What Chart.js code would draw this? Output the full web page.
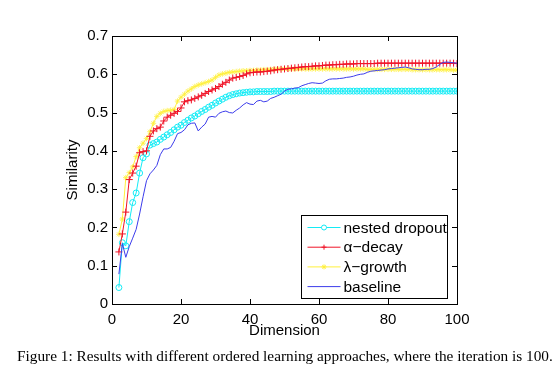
<!DOCTYPE html>
<html>
<head>
<meta charset="utf-8">
<script src="https://cdn.jsdelivr.net/npm/chart.js@4/dist/chart.umd.min.js"></script>
<style>
  html, body { margin: 0; padding: 0; background: #fff; }
  #wrap { position: relative; width: 554px; height: 384px; overflow: hidden; }
  #caption {
    position: absolute; left: 17px; top: 347px; white-space: nowrap;
    font-family: "Liberation Serif", "Times New Roman", serif; font-size: 15.3px; color: #000;
  }
</style>
</head>
<body>
<div id="wrap">
  <canvas id="chart" width="554" height="384"></canvas>
  <div id="caption">Figure 1: Results with different ordered learning approaches, where the iteration is 100.</div>
</div>
<script>
// 차원 (x축)
const dims = [
  2, 3, 4, 5, 6, 7, 8, 9, 10, 11, 12, 13, 14, 15, 16, 17, 18, 19, 20,
  21, 22, 23, 24, 25, 26, 27, 28, 29, 30, 31, 32, 33, 34, 35, 36, 37, 38, 39, 40,
  41, 42, 43, 44, 45, 46, 47, 48, 49, 50, 51, 52, 53, 54, 55, 56, 57, 58, 59, 60,
  61, 62, 63, 64, 65, 66, 67, 68, 69, 70, 71, 72, 73, 74, 75, 76, 77, 78, 79, 80,
  81, 82, 83, 84, 85, 86, 87, 88, 89, 90, 91, 92, 93, 94, 95, 96, 97, 98, 99, 100
];

const nestedDropout = [
  0.043, 0.160, 0.152, 0.215, 0.265, 0.290, 0.342, 0.382, 0.392, 0.415, 0.419, 0.423, 0.430, 0.436, 0.442, 0.448, 0.455, 0.462, 0.467,
  0.474, 0.480, 0.486, 0.491, 0.497, 0.503, 0.508, 0.514, 0.519, 0.525, 0.530, 0.535, 0.540, 0.544, 0.547, 0.549, 0.551, 0.552, 0.553, 0.554,
  0.554, 0.555, 0.555, 0.555, 0.555, 0.555, 0.556, 0.556, 0.556, 0.556, 0.556, 0.556, 0.556, 0.556, 0.556, 0.556, 0.556, 0.556, 0.556, 0.556,
  0.556, 0.556, 0.556, 0.556, 0.556, 0.556, 0.556, 0.556, 0.556, 0.556, 0.556, 0.556, 0.556, 0.556, 0.556, 0.556, 0.556, 0.556, 0.556, 0.556,
  0.556, 0.556, 0.556, 0.556, 0.556, 0.556, 0.556, 0.556, 0.556, 0.556, 0.556, 0.556, 0.556, 0.556, 0.556, 0.556, 0.556, 0.556, 0.556, 0.556
];

const alphaDecay = [
  0.136, 0.183, 0.240, 0.325, 0.342, 0.360, 0.395, 0.398, 0.400, 0.438, 0.452, 0.458, 0.462, 0.478, 0.488, 0.493, 0.498, 0.503, 0.512,
  0.528, 0.531, 0.533, 0.537, 0.541, 0.545, 0.550, 0.555, 0.559, 0.563, 0.568, 0.574, 0.579, 0.585, 0.590, 0.592, 0.594, 0.597, 0.601, 0.604,
  0.605, 0.606, 0.606, 0.607, 0.608, 0.609, 0.611, 0.612, 0.613, 0.614, 0.615, 0.616, 0.617, 0.618, 0.619, 0.620, 0.620, 0.621, 0.622, 0.622,
  0.623, 0.624, 0.624, 0.625, 0.625, 0.626, 0.626, 0.627, 0.627, 0.627, 0.628, 0.628, 0.628, 0.628, 0.628, 0.628, 0.629, 0.629, 0.629, 0.629,
  0.629, 0.629, 0.629, 0.629, 0.629, 0.629, 0.629, 0.629, 0.629, 0.629, 0.629, 0.629, 0.629, 0.629, 0.629, 0.629, 0.629, 0.629, 0.629, 0.628
];

const lambdaGrowth = [
  0.182, 0.222, 0.330, 0.343, 0.358, 0.385, 0.408, 0.420, 0.432, 0.450, 0.472, 0.490, 0.498, 0.503, 0.505, 0.506, 0.508, 0.530, 0.540,
  0.548, 0.556, 0.562, 0.568, 0.572, 0.575, 0.578, 0.581, 0.585, 0.592, 0.598, 0.601, 0.603, 0.605, 0.606, 0.607, 0.608, 0.609, 0.609, 0.610,
  0.610, 0.611, 0.611, 0.612, 0.612, 0.613, 0.613, 0.614, 0.614, 0.614, 0.614, 0.614, 0.614, 0.614, 0.614, 0.614, 0.614, 0.614, 0.614, 0.614,
  0.614, 0.614, 0.614, 0.614, 0.614, 0.614, 0.614, 0.614, 0.614, 0.614, 0.614, 0.614, 0.614, 0.613, 0.613, 0.613, 0.613, 0.613, 0.613, 0.613,
  0.613, 0.613, 0.613, 0.613, 0.613, 0.613, 0.612, 0.612, 0.612, 0.612, 0.612, 0.612, 0.612, 0.612, 0.612, 0.612, 0.612, 0.612, 0.611, 0.611
];

const baseline = [
  0.078, 0.158, 0.122, 0.150, 0.172, 0.195, 0.235, 0.280, 0.322, 0.340, 0.350, 0.362, 0.390, 0.405, 0.405, 0.409, 0.425, 0.445, 0.448,
  0.455, 0.468, 0.472, 0.473, 0.452, 0.462, 0.470, 0.488, 0.490, 0.488, 0.498, 0.502, 0.504, 0.500, 0.499, 0.506, 0.512, 0.520, 0.526, 0.522,
  0.521, 0.530, 0.532, 0.528, 0.530, 0.537, 0.540, 0.544, 0.548, 0.556, 0.561, 0.562, 0.564, 0.565, 0.570, 0.573, 0.576, 0.578, 0.577, 0.576,
  0.577, 0.583, 0.587, 0.588, 0.588, 0.589, 0.590, 0.592, 0.593, 0.595, 0.598, 0.600, 0.601, 0.605, 0.608, 0.609, 0.610, 0.611, 0.612, 0.614,
  0.615, 0.616, 0.617, 0.618, 0.619, 0.617, 0.614, 0.613, 0.612, 0.612, 0.613, 0.613, 0.615, 0.619, 0.626, 0.631, 0.632, 0.631, 0.630, 0.629
];

const seriesNames = ['nested dropout', 'α−decay', 'λ−growth', 'baseline'];
const xTicks = [0, 20, 40, 60, 80, 100];
const yTicks = [0, 0.1, 0.2, 0.3, 0.4, 0.5, 0.6, 0.7];

const FONT = '"Liberation Sans", Arial, Helvetica, sans-serif';

function toPoints(values) {
  return values.map((v, i) => ({ x: dims[i], y: v }));
}

// 안쪽 눈금 + 테두리 (MATLAB 스타일)
const boxTicks = {
  id: 'boxTicks',
  afterDatasetsDraw(chart) {
    const { ctx, chartArea: a, scales: { x, y } } = chart;
    const len = 5;
    ctx.save();
    ctx.strokeStyle = '#000';
    ctx.lineWidth = 1;
    ctx.beginPath();
    xTicks.forEach(v => {
      const px = Math.round(x.getPixelForValue(v)) + 0.5;
      ctx.moveTo(px, a.bottom); ctx.lineTo(px, a.bottom - len);
      ctx.moveTo(px, a.top); ctx.lineTo(px, a.top + len);
    });
    yTicks.forEach(v => {
      const py = Math.round(y.getPixelForValue(v)) + 0.5;
      ctx.moveTo(a.left, py); ctx.lineTo(a.left + len, py);
      ctx.moveTo(a.right, py); ctx.lineTo(a.right - len, py);
    });
    ctx.stroke();
    ctx.strokeRect(Math.round(a.left) + 0.5, Math.round(a.top) + 0.5,
      Math.round(a.right - a.left), Math.round(a.bottom - a.top));
    ctx.restore();
  }
};

// 범례: 그래프 안 오른쪽 아래
const boxLegend = {
  id: 'boxLegend',
  afterDraw(chart) {
    const { ctx, chartArea: a } = chart;
    const w = 146, h = 83;
    const bx = Math.round(a.right - 10 - w) + 0.5;
    const by = Math.round(a.bottom - 6 - h) + 0.5;
    ctx.save();
    ctx.fillStyle = '#fff';
    ctx.fillRect(bx, by, w, h);
    ctx.strokeStyle = '#000';
    ctx.lineWidth = 1;
    ctx.strokeRect(bx, by, w, h);
    ctx.font = '15.5px ' + FONT;
    ctx.textBaseline = 'middle';
    seriesNames.forEach((name, i) => {
      const ds = chart.data.datasets[i];
      const cy = by + 12 + i * 19.7;
      ctx.strokeStyle = ds.borderColor;
      ctx.lineWidth = 1;
      ctx.beginPath();
      ctx.moveTo(bx + 6, cy); ctx.lineTo(bx + 39, cy);
      ctx.stroke();
      if (ds.pointStyle && ds.pointRadius > 0) {
        Chart.helpers.drawPoint(ctx, {
          pointStyle: ds.pointStyle, radius: 2.5, rotation: 0, borderWidth: 1
        }, bx + 22.5, cy);
      }
      ctx.fillStyle = '#000';
      ctx.fillText(name, bx + 42, cy + 1);
    });
    ctx.restore();
  }
};

new Chart(document.getElementById('chart'), {
  type: 'line',
  data: {
    datasets: [
      {
        label: seriesNames[0],
        data: toPoints(nestedDropout),
        borderColor: 'rgb(20,235,245)',
        backgroundColor: 'rgba(0,0,0,0)',
        pointStyle: 'circle',
        pointRadius: 3,
        pointBorderWidth: 1,
        borderWidth: 1,
        order: 3
      },
      {
        label: seriesNames[1],
        data: toPoints(alphaDecay),
        borderColor: 'rgb(240,20,40)',
        backgroundColor: 'rgba(0,0,0,0)',
        pointStyle: 'cross',
        pointRadius: 3.5,
        pointBorderWidth: 1,
        borderWidth: 1,
        order: 1
      },
      {
        label: seriesNames[2],
        data: toPoints(lambdaGrowth),
        borderColor: 'rgb(255,240,60)',
        backgroundColor: 'rgba(0,0,0,0)',
        pointStyle: 'star',
        pointRadius: 2.8,
        pointBorderWidth: 0.8,
        borderWidth: 1,
        order: 2
      },
      {
        label: seriesNames[3],
        data: toPoints(baseline),
        borderColor: 'rgb(60,60,235)',
        backgroundColor: 'rgba(0,0,0,0)',
        pointRadius: 0,
        borderWidth: 1,
        order: 0
      }
    ]
  },
  options: {
    responsive: false,
    animation: false,
    devicePixelRatio: 1,
    layout: { padding: { left: 60, top: 36, right: 97, bottom: 44 } },
    plugins: {
      legend: { display: false },
      tooltip: { enabled: false }
    },
    scales: {
      x: {
        type: 'linear',
        min: 0, max: 100,
        afterFit: s => { s.height = 36; },
        afterBuildTicks: s => { s.ticks = xTicks.map(v => ({ value: v })); },
        grid: { display: false, drawTicks: false },
        border: { display: false },
        ticks: { color: '#000', padding: 7, font: { family: FONT, size: 15 } },
        title: { display: true, text: 'Dimension', color: '#000', padding: 0, font: { family: FONT, size: 15 } }
      },
      y: {
        min: 0, max: 0.7,
        afterFit: s => { s.width = 52; },
        afterBuildTicks: s => { s.ticks = yTicks.map(v => ({ value: v })); },
        grid: { display: false, drawTicks: false },
        border: { display: false },
        ticks: { color: '#000', padding: 4, font: { family: FONT, size: 15 } },
        title: { display: true, text: 'Similarity', color: '#000', padding: { top: 4, bottom: 0 }, font: { family: FONT, size: 15 } }
      }
    }
  },
  plugins: [boxTicks, boxLegend]
});
</script>
</body>
</html>
